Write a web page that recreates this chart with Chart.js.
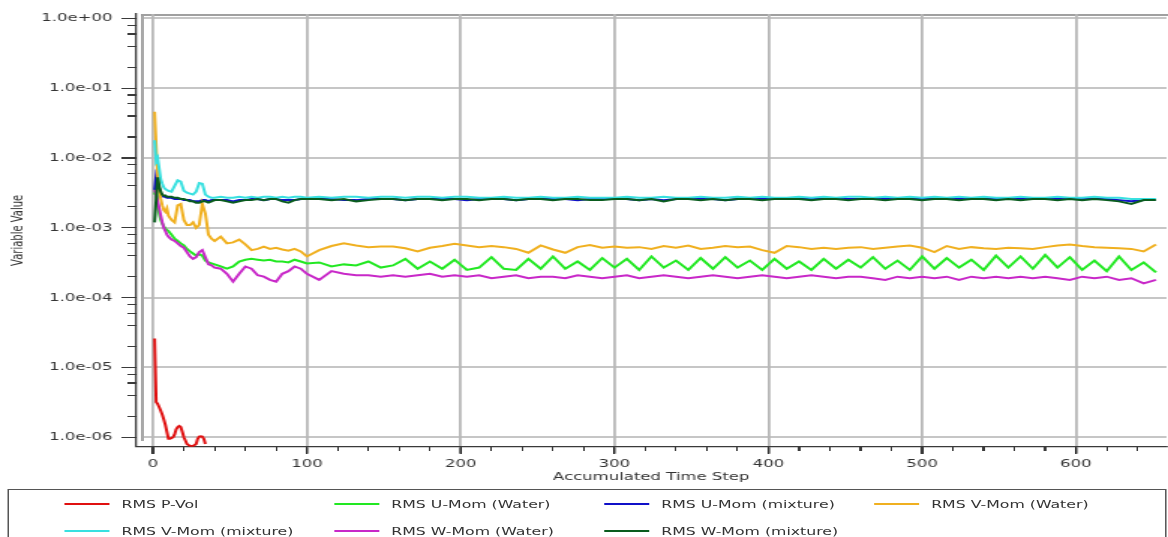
<!DOCTYPE html>
<html>
<head>
<meta charset="utf-8">
<script src="https://cdn.jsdelivr.net/npm/chart.js@4.4.1/dist/chart.umd.min.js"></script>
<style>
  html, body { margin: 0; padding: 0; background: #fff; overflow: hidden; }
  /* the reference screenshot is stretched sideways, so the whole page is too */
  #page { position: relative; width: 779px; height: 537px; transform: scaleX(1.4994); transform-origin: 0 0;
          font-family: "DejaVu Sans", sans-serif; color: #333; }
  #plot { position: absolute; left: 0; top: 0; width: 779px; height: 489px; }
  #decor { position: absolute; left: 0; top: 0; width: 779px; height: 489px; z-index: 0; }
  #residuals { position: relative; z-index: 1; }
  #legend { position: absolute; left: 5px; top: 489px; width: 773px; height: 60px; box-sizing: border-box;
            border: 1px solid #555; display: grid; grid-template-columns: repeat(4, 180px); grid-auto-rows: 27px;
            padding-left: 37px; font-size: 10.5px; }
  .item { display: flex; align-items: center; white-space: nowrap; }
  .swatch { display: inline-block; width: 30px; height: 2px; margin-right: 8px; }
</style>
</head>
<body>
<div id="page">
  <div id="plot"><div id="decor"></div><canvas id="residuals"></canvas></div>
  <div id="legend"></div>
</div>
<script>
const seriesNames = [
  "RMS P-Vol",
  "RMS U-Mom (Water)",
  "RMS U-Mom (mixture)",
  "RMS V-Mom (Water)",
  "RMS V-Mom (mixture)",
  "RMS W-Mom (Water)",
  "RMS W-Mom (mixture)",
];
const seriesColors = ["#e01010", "#22e822", "#1010c8", "#f0b020", "#38e0e0", "#c828c8", "#0a5c1e"];

const xTicks = [0, 20, 40, 60, 80, 100, 120, 140, 160, 180, 200, 220, 240, 260, 280, 300, 320, 340,
  360, 380, 400, 420, 440, 460, 480, 500, 520, 540, 560, 580, 600, 620, 640];
const xGrid = [0, 100, 200, 300, 400, 500, 600];
const yTicks = [1e-6, 2e-6, 4e-6, 6e-6, 8e-6, 1e-5, 2e-5, 4e-5, 6e-5, 8e-5, 1e-4, 2e-4, 4e-4, 6e-4, 8e-4,
  1e-3, 2e-3, 4e-3, 6e-3, 8e-3, 1e-2, 2e-2, 4e-2, 6e-2, 8e-2, 1e-1, 2e-1, 4e-1, 6e-1, 8e-1, 1];
const yGrid = [1e-6, 1e-5, 1e-4, 1e-3, 1e-2, 1e-1, 1];

const pVolSteps = [1, 2, 3, 4, 5, 6, 7, 8, 9, 10, 11, 12, 13, 14, 15, 16, 17, 18, 19, 20, 21, 22,
  24, 26, 28, 29, 30, 31, 32, 33, 34];
const pVol = [2.6e-5, 3.2e-6, 3.0e-6, 2.7e-6, 2.4e-6, 2.1e-6, 1.8e-6, 1.5e-6, 1.2e-6, 9.5e-7, 9.5e-7,
  9.8e-7, 1.0e-6, 1.1e-6, 1.3e-6, 1.4e-6, 1.45e-6, 1.4e-6, 1.2e-6, 1.0e-6, 9.0e-7, 8.0e-7,
  7.5e-7, 7.5e-7, 8.0e-7, 9.5e-7, 1.02e-6, 1.03e-6, 1.02e-6, 9.5e-7, 8.0e-7];

const steps = [1, 2, 3, 4, 5, 6, 7, 8, 9, 10,
  12, 14, 16, 18, 20, 22, 24, 26, 28, 30, 32, 34, 36, 38, 40,
  44, 48, 52, 56, 60, 64, 68, 72, 76, 80, 84, 88, 92, 96, 100,
  108, 116, 124, 132, 140, 148, 156, 164, 172, 180,
  188, 196, 204, 212, 220, 228, 236, 244, 252, 260,
  268, 276, 284, 292, 300, 308, 316, 324, 332, 340,
  348, 356, 364, 372, 380, 388, 396, 404, 412, 420,
  428, 436, 444, 452, 460, 468, 476, 484, 492, 500,
  508, 516, 524, 532, 540, 548, 556, 564, 572, 580,
  588, 596, 604, 612, 620, 628, 636, 644, 652];

const uMomWater = [3.0e-3, 4.0e-3, 2.2e-3, 1.6e-3, 1.3e-3, 1.15e-3, 1.05e-3, 9.8e-4, 9.3e-4, 9.0e-4,
  8.0e-4, 7.0e-4, 6.5e-4, 6.0e-4, 5.6e-4, 5.0e-4, 4.6e-4, 4.3e-4, 4.0e-4, 4.2e-4, 4.0e-4, 3.4e-4, 3.2e-4, 3.1e-4, 3.0e-4,
  2.8e-4, 2.6e-4, 2.8e-4, 3.3e-4, 3.5e-4, 3.6e-4, 3.5e-4, 3.4e-4, 3.5e-4, 3.3e-4, 3.3e-4, 3.2e-4, 3.5e-4, 3.3e-4, 3.1e-4,
  3.2e-4, 2.8e-4, 3.0e-4, 2.9e-4, 3.3e-4, 2.7e-4, 2.9e-4, 3.6e-4, 2.6e-4, 3.3e-4,
  2.6e-4, 3.5e-4, 2.5e-4, 2.7e-4, 3.8e-4, 2.6e-4, 2.5e-4, 3.6e-4, 2.6e-4, 3.9e-4,
  2.6e-4, 3.3e-4, 2.5e-4, 3.7e-4, 2.7e-4, 3.6e-4, 2.5e-4, 3.9e-4, 2.7e-4, 3.4e-4,
  2.5e-4, 3.7e-4, 2.6e-4, 3.8e-4, 2.7e-4, 3.4e-4, 2.5e-4, 3.6e-4, 2.6e-4, 3.3e-4,
  2.5e-4, 3.6e-4, 2.6e-4, 3.5e-4, 2.7e-4, 3.8e-4, 2.6e-4, 3.4e-4, 2.5e-4, 3.9e-4,
  2.6e-4, 3.7e-4, 2.7e-4, 3.5e-4, 2.5e-4, 4.0e-4, 2.7e-4, 3.9e-4, 2.6e-4, 4.1e-4,
  2.7e-4, 3.8e-4, 2.5e-4, 3.4e-4, 2.4e-4, 3.9e-4, 2.5e-4, 3.2e-4, 2.3e-4];

const uMomMix = [3.5e-3, 5.5e-3, 4.6e-3, 3.6e-3, 3.1e-3, 2.9e-3, 2.8e-3, 2.8e-3, 2.7e-3, 2.7e-3,
  2.7e-3, 2.6e-3, 2.6e-3, 2.6e-3, 2.5e-3, 2.5e-3, 2.5e-3, 2.4e-3, 2.4e-3, 2.4e-3, 2.5e-3, 2.5e-3, 2.4e-3, 2.5e-3, 2.5e-3,
  2.5e-3, 2.5e-3, 2.4e-3, 2.5e-3, 2.5e-3, 2.6e-3, 2.6e-3, 2.5e-3, 2.6e-3, 2.6e-3, 2.5e-3, 2.5e-3, 2.5e-3, 2.6e-3, 2.6e-3,
  2.6e-3, 2.6e-3, 2.5e-3, 2.5e-3, 2.6e-3, 2.6e-3, 2.6e-3, 2.5e-3, 2.6e-3, 2.6e-3,
  2.6e-3, 2.6e-3, 2.5e-3, 2.6e-3, 2.6e-3, 2.6e-3, 2.5e-3, 2.6e-3, 2.6e-3, 2.6e-3,
  2.6e-3, 2.5e-3, 2.6e-3, 2.6e-3, 2.6e-3, 2.6e-3, 2.5e-3, 2.6e-3, 2.5e-3, 2.6e-3,
  2.6e-3, 2.6e-3, 2.6e-3, 2.5e-3, 2.6e-3, 2.6e-3, 2.6e-3, 2.6e-3, 2.6e-3, 2.6e-3,
  2.6e-3, 2.6e-3, 2.6e-3, 2.6e-3, 2.6e-3, 2.6e-3, 2.6e-3, 2.6e-3, 2.6e-3, 2.6e-3,
  2.6e-3, 2.6e-3, 2.6e-3, 2.6e-3, 2.6e-3, 2.6e-3, 2.6e-3, 2.6e-3, 2.6e-3, 2.6e-3,
  2.6e-3, 2.6e-3, 2.6e-3, 2.6e-3, 2.6e-3, 2.5e-3, 2.4e-3, 2.5e-3, 2.5e-3];

const vMomWater = [4.6e-2, 1.5e-2, 5.5e-3, 3.5e-3, 2.6e-3, 2.1e-3, 1.8e-3, 1.7e-3, 1.9e-3, 1.5e-3,
  1.3e-3, 1.2e-3, 2.1e-3, 2.2e-3, 1.3e-3, 1.1e-3, 1.1e-3, 1.2e-3, 1.0e-3, 1.1e-3, 2.2e-3, 1.6e-3, 8.0e-4, 7.0e-4, 6.5e-4,
  7.5e-4, 6.0e-4, 6.2e-4, 6.8e-4, 5.8e-4, 4.8e-4, 5.0e-4, 5.4e-4, 5.0e-4, 5.2e-4, 4.9e-4, 4.7e-4, 5.0e-4, 4.6e-4, 3.9e-4,
  4.8e-4, 5.5e-4, 6.0e-4, 5.6e-4, 5.3e-4, 5.4e-4, 5.4e-4, 5.1e-4, 4.6e-4, 5.2e-4,
  5.5e-4, 5.9e-4, 5.6e-4, 5.3e-4, 5.5e-4, 5.3e-4, 5.0e-4, 4.4e-4, 5.6e-4, 4.9e-4,
  4.4e-4, 5.3e-4, 5.7e-4, 5.2e-4, 5.4e-4, 5.2e-4, 5.3e-4, 5.0e-4, 5.5e-4, 5.2e-4,
  5.6e-4, 5.0e-4, 5.2e-4, 5.5e-4, 5.3e-4, 5.4e-4, 4.8e-4, 4.4e-4, 5.5e-4, 5.3e-4,
  5.0e-4, 5.2e-4, 5.0e-4, 5.2e-4, 5.3e-4, 5.0e-4, 5.2e-4, 5.4e-4, 5.6e-4, 5.2e-4,
  4.5e-4, 5.5e-4, 5.0e-4, 5.3e-4, 5.1e-4, 5.0e-4, 5.2e-4, 5.1e-4, 5.0e-4, 5.3e-4,
  5.6e-4, 5.8e-4, 5.5e-4, 5.3e-4, 5.2e-4, 5.1e-4, 5.0e-4, 4.6e-4, 5.8e-4];

const vMomMix = [1.8e-2, 9.0e-3, 1.0e-2, 7.0e-3, 5.0e-3, 4.3e-3, 3.8e-3, 3.6e-3, 3.5e-3, 3.4e-3,
  3.3e-3, 4.0e-3, 4.8e-3, 4.6e-3, 3.4e-3, 3.2e-3, 3.1e-3, 3.0e-3, 3.3e-3, 4.4e-3, 4.3e-3, 3.0e-3, 2.8e-3, 2.7e-3, 2.7e-3,
  2.8e-3, 2.7e-3, 2.7e-3, 2.8e-3, 2.7e-3, 2.8e-3, 2.7e-3, 2.8e-3, 2.8e-3, 2.7e-3, 2.8e-3, 2.7e-3, 2.8e-3, 2.8e-3, 2.7e-3,
  2.8e-3, 2.7e-3, 2.8e-3, 2.8e-3, 2.7e-3, 2.8e-3, 2.8e-3, 2.7e-3, 2.8e-3, 2.8e-3,
  2.7e-3, 2.8e-3, 2.8e-3, 2.7e-3, 2.7e-3, 2.8e-3, 2.7e-3, 2.7e-3, 2.8e-3, 2.7e-3,
  2.7e-3, 2.8e-3, 2.7e-3, 2.7e-3, 2.7e-3, 2.8e-3, 2.7e-3, 2.7e-3, 2.8e-3, 2.7e-3,
  2.7e-3, 2.8e-3, 2.7e-3, 2.7e-3, 2.8e-3, 2.7e-3, 2.8e-3, 2.7e-3, 2.7e-3, 2.8e-3,
  2.7e-3, 2.8e-3, 2.7e-3, 2.8e-3, 2.8e-3, 2.7e-3, 2.8e-3, 2.7e-3, 2.8e-3, 2.7e-3,
  2.8e-3, 2.7e-3, 2.8e-3, 2.7e-3, 2.8e-3, 2.7e-3, 2.7e-3, 2.8e-3, 2.7e-3, 2.7e-3,
  2.8e-3, 2.7e-3, 2.7e-3, 2.8e-3, 2.7e-3, 2.7e-3, 2.6e-3, 2.6e-3, 2.6e-3];

const wMomWater = [3.5e-3, 3.0e-3, 2.4e-3, 1.9e-3, 1.5e-3, 1.2e-3, 1.0e-3, 9.0e-4, 8.0e-4, 7.5e-4,
  6.8e-4, 6.5e-4, 6.0e-4, 5.5e-4, 5.2e-4, 4.5e-4, 3.9e-4, 3.6e-4, 3.8e-4, 4.5e-4, 4.8e-4, 3.8e-4, 3.0e-4, 2.9e-4, 2.7e-4,
  2.6e-4, 2.2e-4, 1.7e-4, 2.2e-4, 2.8e-4, 2.6e-4, 2.1e-4, 2.0e-4, 1.8e-4, 1.7e-4, 2.2e-4, 2.4e-4, 2.8e-4, 2.6e-4, 2.2e-4,
  1.8e-4, 2.4e-4, 2.2e-4, 2.1e-4, 2.1e-4, 2.0e-4, 2.1e-4, 2.0e-4, 2.1e-4, 2.2e-4,
  2.0e-4, 2.1e-4, 2.0e-4, 2.1e-4, 1.9e-4, 2.0e-4, 2.1e-4, 1.9e-4, 2.0e-4, 2.0e-4,
  1.9e-4, 2.1e-4, 2.0e-4, 1.9e-4, 2.0e-4, 2.1e-4, 1.9e-4, 2.0e-4, 2.1e-4, 2.0e-4,
  1.9e-4, 2.0e-4, 2.1e-4, 2.0e-4, 1.9e-4, 2.0e-4, 2.1e-4, 2.0e-4, 1.9e-4, 2.0e-4,
  2.1e-4, 2.0e-4, 1.9e-4, 2.0e-4, 2.0e-4, 1.9e-4, 1.8e-4, 2.0e-4, 1.9e-4, 2.0e-4,
  1.9e-4, 2.0e-4, 1.8e-4, 2.0e-4, 1.9e-4, 2.0e-4, 1.9e-4, 2.0e-4, 1.9e-4, 2.0e-4,
  1.9e-4, 1.8e-4, 2.0e-4, 1.9e-4, 2.0e-4, 1.8e-4, 1.9e-4, 1.6e-4, 1.8e-4];

const wMomMix = [1.2e-3, 2.5e-3, 5.3e-3, 4.0e-3, 3.3e-3, 3.0e-3, 2.9e-3, 2.9e-3, 2.8e-3, 2.8e-3,
  2.8e-3, 2.7e-3, 2.7e-3, 2.6e-3, 2.6e-3, 2.5e-3, 2.4e-3, 2.4e-3, 2.3e-3, 2.3e-3, 2.4e-3, 2.4e-3, 2.3e-3, 2.4e-3, 2.5e-3,
  2.5e-3, 2.4e-3, 2.3e-3, 2.4e-3, 2.5e-3, 2.5e-3, 2.6e-3, 2.5e-3, 2.6e-3, 2.6e-3, 2.4e-3, 2.3e-3, 2.5e-3, 2.6e-3, 2.6e-3,
  2.6e-3, 2.5e-3, 2.6e-3, 2.4e-3, 2.5e-3, 2.6e-3, 2.6e-3, 2.5e-3, 2.6e-3, 2.6e-3,
  2.5e-3, 2.6e-3, 2.6e-3, 2.5e-3, 2.6e-3, 2.6e-3, 2.5e-3, 2.6e-3, 2.6e-3, 2.5e-3,
  2.6e-3, 2.6e-3, 2.5e-3, 2.5e-3, 2.6e-3, 2.6e-3, 2.5e-3, 2.6e-3, 2.4e-3, 2.6e-3,
  2.6e-3, 2.5e-3, 2.6e-3, 2.5e-3, 2.6e-3, 2.6e-3, 2.5e-3, 2.6e-3, 2.6e-3, 2.6e-3,
  2.5e-3, 2.6e-3, 2.6e-3, 2.5e-3, 2.6e-3, 2.6e-3, 2.5e-3, 2.6e-3, 2.6e-3, 2.5e-3,
  2.6e-3, 2.6e-3, 2.5e-3, 2.6e-3, 2.6e-3, 2.5e-3, 2.6e-3, 2.5e-3, 2.6e-3, 2.6e-3,
  2.5e-3, 2.6e-3, 2.5e-3, 2.6e-3, 2.5e-3, 2.4e-3, 2.2e-3, 2.5e-3, 2.5e-3];

Chart.defaults.font.family = '"DejaVu Sans", sans-serif';
Chart.defaults.color = "#333";

function toPoints(xs, ys) {
  return xs.map((x, i) => ({ x: x, y: ys[i] }));
}

function isDecade(v) {
  const l = Math.log10(v);
  return Math.abs(l - Math.round(l)) < 1e-9;
}

function expLabel(v) {
  const e = Math.round(Math.log10(v));
  return "1.0e" + (e < 0 ? "-" : "+") + String(Math.abs(e)).padStart(2, "0");
}

const seriesData = [
  toPoints(pVolSteps, pVol),
  toPoints(steps, uMomWater),
  toPoints(steps, uMomMix),
  toPoints(steps, vMomWater),
  toPoints(steps, vMomMix),
  toPoints(steps, wMomWater),
  toPoints(steps, wMomMix),
];

// horizontal grid, y ticks and minor x ticks as thin divs behind the canvas,
// placed from the chart's own scales every time it renders
const decorEl = document.getElementById("decor");

function addBar(left, top, width, height, color) {
  const d = document.createElement("div");
  d.style.cssText = `position:absolute;left:${left}px;top:${top}px;width:${width}px;height:${height}px;background:${color}`;
  decorEl.appendChild(d);
}

const decorPlugin = {
  id: "decor",
  afterRender(chart) {
    const area = chart.chartArea;
    const xs = chart.scales.x;
    const ys = chart.scales.y;
    decorEl.innerHTML = "";
    yGrid.forEach((v) => {
      const py = ys.getPixelForValue(v);
      addBar(area.left + 4, py - 1, area.right - area.left - 4, 2, "#c6c6c6");
    });
    yTicks.forEach((v) => {
      const py = ys.getPixelForValue(v);
      const len = isDecade(v) ? 10 : 6;
      addBar(area.left - len, py - 0.6, len, 1.2, "#3a3a3a");
    });
    xTicks.forEach((v) => {
      const px = xs.getPixelForValue(v);
      addBar(px - 0.6, area.bottom, 1.2, v % 100 === 0 ? 7 : 4, "#3a3a3a");
    });
    // light frame a few pixels inside the axes
    addBar(area.left + 3.2, area.top, 1.6, area.bottom - area.top - 5.5, "#a8a8a8");
    addBar(area.left + 3.2, area.top, area.right - area.left, 1.6, "#a0a0a0");
  },
};

new Chart(document.getElementById("residuals"), {
  type: "line",
  data: {
    datasets: seriesData.map((pts, i) => ({
      label: seriesNames[i],
      data: pts,
      borderColor: seriesColors[i],
      backgroundColor: seriesColors[i],
      borderWidth: 2,
      pointRadius: 0,
      tension: 0,
      fill: false,
      order: seriesNames.length - i,
    })),
  },
  options: {
    responsive: true,
    maintainAspectRatio: false,
    animation: false,
    layout: { padding: { top: 14, right: 1.4, bottom: 0, left: 0 } },
    plugins: {
      legend: { display: false },
      tooltip: { enabled: false },
    },
    scales: {
      x: {
        type: "linear",
        min: -10.8,
        max: 658.5,
        afterBuildTicks: (scale) => {
          scale.ticks = xGrid.map((v) => ({ value: v }));
        },
        afterFit: (scale) => {
          scale.height = 42.3;
        },
        ticks: {
          autoSkip: false,
          maxRotation: 0,
          padding: 4,
          font: { size: 11 },
          color: "#333",
        },
        grid: {
          color: "#b8b8b8",
          lineWidth: 1.8,
          tickColor: "#3a3a3a",
          tickLength: 7,
          tickWidth: 1.3,
        },
        border: { display: true, color: "#3a3a3a", width: 1.3 },
        title: {
          display: true,
          text: "Accumulated Time Step",
          font: { size: 11 },
          color: "#333",
          padding: { top: 0, bottom: 5 },
        },
      },
      y: {
        type: "logarithmic",
        min: 7.33e-7,
        max: 1.16,
        afterBuildTicks: (scale) => {
          scale.ticks = yGrid.map((v) => ({ value: v }));
        },
        afterFit: (scale) => {
          scale.width = 91;
        },
        ticks: {
          autoSkip: false,
          padding: 6,
          font: { size: 11 },
          color: "#333",
          callback: (v) => expLabel(v),
        },
        grid: {
          drawOnChartArea: false,
          color: "rgba(0,0,0,0)",
          tickColor: "rgba(0,0,0,0)",
          tickLength: 10,
        },
        border: { display: true, color: "#3a3a3a", width: 1.3 },
        title: {
          display: true,
          text: "Variable Value",
          font: { size: 10 },
          color: "#333",
          padding: { top: 6, bottom: 0 },
        },
      },
    },
  },
  plugins: [decorPlugin],
});

const legendEl = document.getElementById("legend");
seriesNames.forEach((name, i) => {
  const item = document.createElement("div");
  item.className = "item";
  item.innerHTML = `<span class="swatch" style="background:${seriesColors[i]}"></span><span>${name}</span>`;
  legendEl.appendChild(item);
});
</script>
</body>
</html>
